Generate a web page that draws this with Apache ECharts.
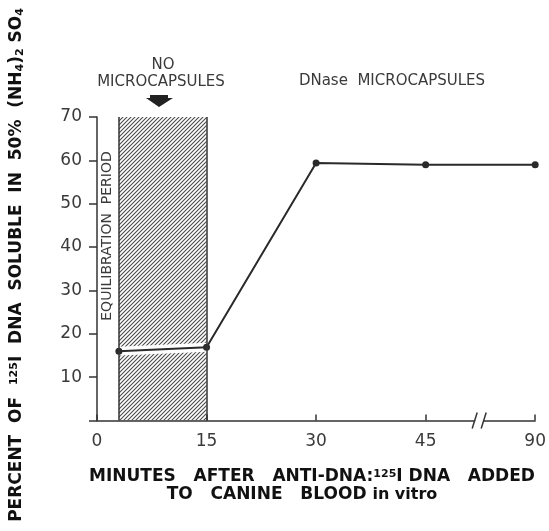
<!DOCTYPE html>
<html><head><meta charset="utf-8">
<script src="https://cdn.jsdelivr.net/npm/echarts@6/dist/echarts.min.js"></script>
<style>html,body{margin:0;padding:0;background:#fff}#c{width:549px;height:531px}</style>
</head><body><div id="c"></div>
<script>
// ---- data ----
const timesMin = [3, 15, 30, 45, 90];
const percentSoluble = [16.0, 16.9, 59.4, 59.0, 59.0];
const xTickMinutes = [0, 15, 30, 45, 90];
const xTickLabels = ['0', '15', '30', '45', '90'];
const yMin = 0, yMax = 70, yStep = 10;
const equilibrationPeriod = [3, 15];   // minutes (hatched band)
const axisBreakMinutes = 67;           // where the // break is drawn

// broken time axis: each labelled tick is one axis unit apart
function pos(m) {
  for (let j = 0; j < xTickMinutes.length - 1; j++) {
    const a = xTickMinutes[j], b = xTickMinutes[j + 1];
    if (m >= a && m <= b) return j + (m - a) / (b - a);
  }
  return xTickMinutes.length - 1;
}

const hatch = document.createElement('canvas');
hatch.width = 4; hatch.height = 4;
const g = hatch.getContext('2d');
g.strokeStyle = '#4a4a4a'; g.lineWidth = 1.1;
g.beginPath();
g.moveTo(0, 4); g.lineTo(4, 0);
g.moveTo(-1, 1); g.lineTo(1, -1);
g.moveTo(3, 5); g.lineTo(5, 3);
g.stroke();

const ink = '#333';
const FONT = 'DejaVu Sans';
const mainData = timesMin.map((t, i) => [pos(t), percentSoluble[i]]);
const eqStart = pos(equilibrationPeriod[0]), eqEnd = pos(equilibrationPeriod[1]);
const inBand = mainData.filter((d, i) => timesMin[i] >= equilibrationPeriod[0] && timesMin[i] <= equilibrationPeriod[1]);

const chart = echarts.init(document.getElementById('c'), null, {renderer: 'canvas'});
chart.setOption({
  animation: false,
  backgroundColor: '#fff',
  grid: {left: 97, right: 12, top: 117, bottom: 110.5, containLabel: false},
  xAxis: {
    type: 'value', min: 0, max: xTickMinutes.length - 1, interval: 1,
    splitLine: {show: false},
    axisLine: {lineStyle: {color: ink, width: 1.5}},
    axisTick: {inside: true, length: 6, lineStyle: {color: ink, width: 1.5}},
    axisLabel: {formatter: v => xTickLabels[v], fontFamily: FONT, fontSize: 17, color: '#3a3a3a', margin: 13}
  },
  yAxis: {
    type: 'value', min: yMin, max: yMax, interval: yStep,
    splitLine: {show: false},
    axisLine: {show: true, lineStyle: {color: ink, width: 1.5}},
    axisTick: {show: true, inside: false, length: 8, lineStyle: {color: ink, width: 1.5}},
    axisLabel: {formatter: v => v === 0 ? '' : String(v), fontFamily: FONT, fontSize: 17, color: '#3a3a3a', margin: 15}
  },
  series: [
    {
      name: 'band', type: 'line', data: [], z: 1, silent: true,
      markArea: {silent: true, itemStyle: {color: {image: hatch, repeat: 'repeat'}},
        data: [[{coord: [eqStart, yMin]}, {coord: [eqEnd, yMax]}]]},
      markLine: {silent: true, symbol: 'none', label: {show: false},
        lineStyle: {color: ink, width: 1.5, type: 'solid'},
        data: [[{coord: [eqStart, yMin]}, {coord: [eqStart, yMax]}],
               [{coord: [eqEnd, yMin]}, {coord: [eqEnd, yMax]}]]}
    },
    {
      name: 'gap', type: 'line', data: inBand, z: 2, silent: true, symbol: 'none',
      lineStyle: {color: '#fff', width: 9}
    },
    {
      name: 'DNA soluble', type: 'line', data: mainData, z: 3,
      symbol: 'circle', symbolSize: 7,
      itemStyle: {color: '#2a2a2a'},
      lineStyle: {color: '#2a2a2a', width: 2}
    }
  ]
});

const bx = chart.convertToPixel({gridIndex: 0}, [pos(axisBreakMinutes), 0]);
const X = bx[0], Y = bx[1];
const bold = {fontFamily: FONT, fontWeight: 'bold', fontSize: 17, fill: '#111'};
const supS = {fontFamily: FONT, fontWeight: 'bold', fontSize: 11, fill: '#111', verticalAlign: 'top'};
const subS = {fontFamily: FONT, fontWeight: 'bold', fontSize: 11, fill: '#111', verticalAlign: 'bottom'};
chart.setOption({
  graphic: [
    {type: 'rect', shape: {x: X - 4, y: Y - 2, width: 8, height: 4}, style: {fill: '#fff'}, z: 100},
    {type: 'line', shape: {x1: X - 7, y1: Y + 8, x2: X - 2, y2: Y - 8}, style: {stroke: ink, lineWidth: 1.5}, z: 101},
    {type: 'line', shape: {x1: X + 2, y1: Y + 8, x2: X + 7, y2: Y - 8}, style: {stroke: ink, lineWidth: 1.5}, z: 101},
    {type: 'text', x: 163, y: 65, style: {text: 'NO', fontFamily: FONT, fontSize: 15, fill: '#3a3a3a', align: 'center', verticalAlign: 'middle'}},
    {type: 'text', x: 161, y: 82, style: {text: 'MICROCAPSULES', fontFamily: FONT, fontSize: 15, fill: '#3a3a3a', align: 'center', verticalAlign: 'middle'}},
    {type: 'text', x: 392, y: 81, style: {text: 'DNase  MICROCAPSULES', fontFamily: FONT, fontSize: 15, fill: '#3a3a3a', align: 'center', verticalAlign: 'middle'}},
    {type: 'polygon', shape: {points: [[150, 95], [168, 95], [168, 98], [173, 98], [159, 107], [146, 98], [150, 98]]}, style: {fill: '#222'}},
    {type: 'text', x: 107, y: 236, rotation: Math.PI / 2, style: {text: 'EQUILIBRATION  PERIOD', fontFamily: FONT, fontSize: 14, fill: '#3a3a3a', align: 'center', verticalAlign: 'middle'}},
    {type: 'text', x: 312, y: 477, style: {
      text: '{b|MINUTES   AFTER   ANTI-DNA:}{s|125}{b|I DNA   ADDED}',
      align: 'center', verticalAlign: 'middle',
      rich: {b: bold, s: supS}}},
    {type: 'text', x: 302, y: 495, style: {
      text: '{b|TO   CANINE   BLOOD }{i|in vitro}',
      align: 'center', verticalAlign: 'middle',
      rich: {b: bold, i: {fontFamily: FONT, fontWeight: 'bold', fontSize: 16, fill: '#111'}}}},
    {type: 'text', x: 17, y: 265, rotation: Math.PI / 2, style: {
      text: '{b|PERCENT  OF  }{s|125}{b|I  DNA  SOLUBLE  IN  50%  (NH}{d|4}{b|)}{d|2}{b| SO}{d|4}',
      align: 'center', verticalAlign: 'middle',
      rich: {b: bold, s: supS, d: subS}}}
  ]
});
</script></body></html>
